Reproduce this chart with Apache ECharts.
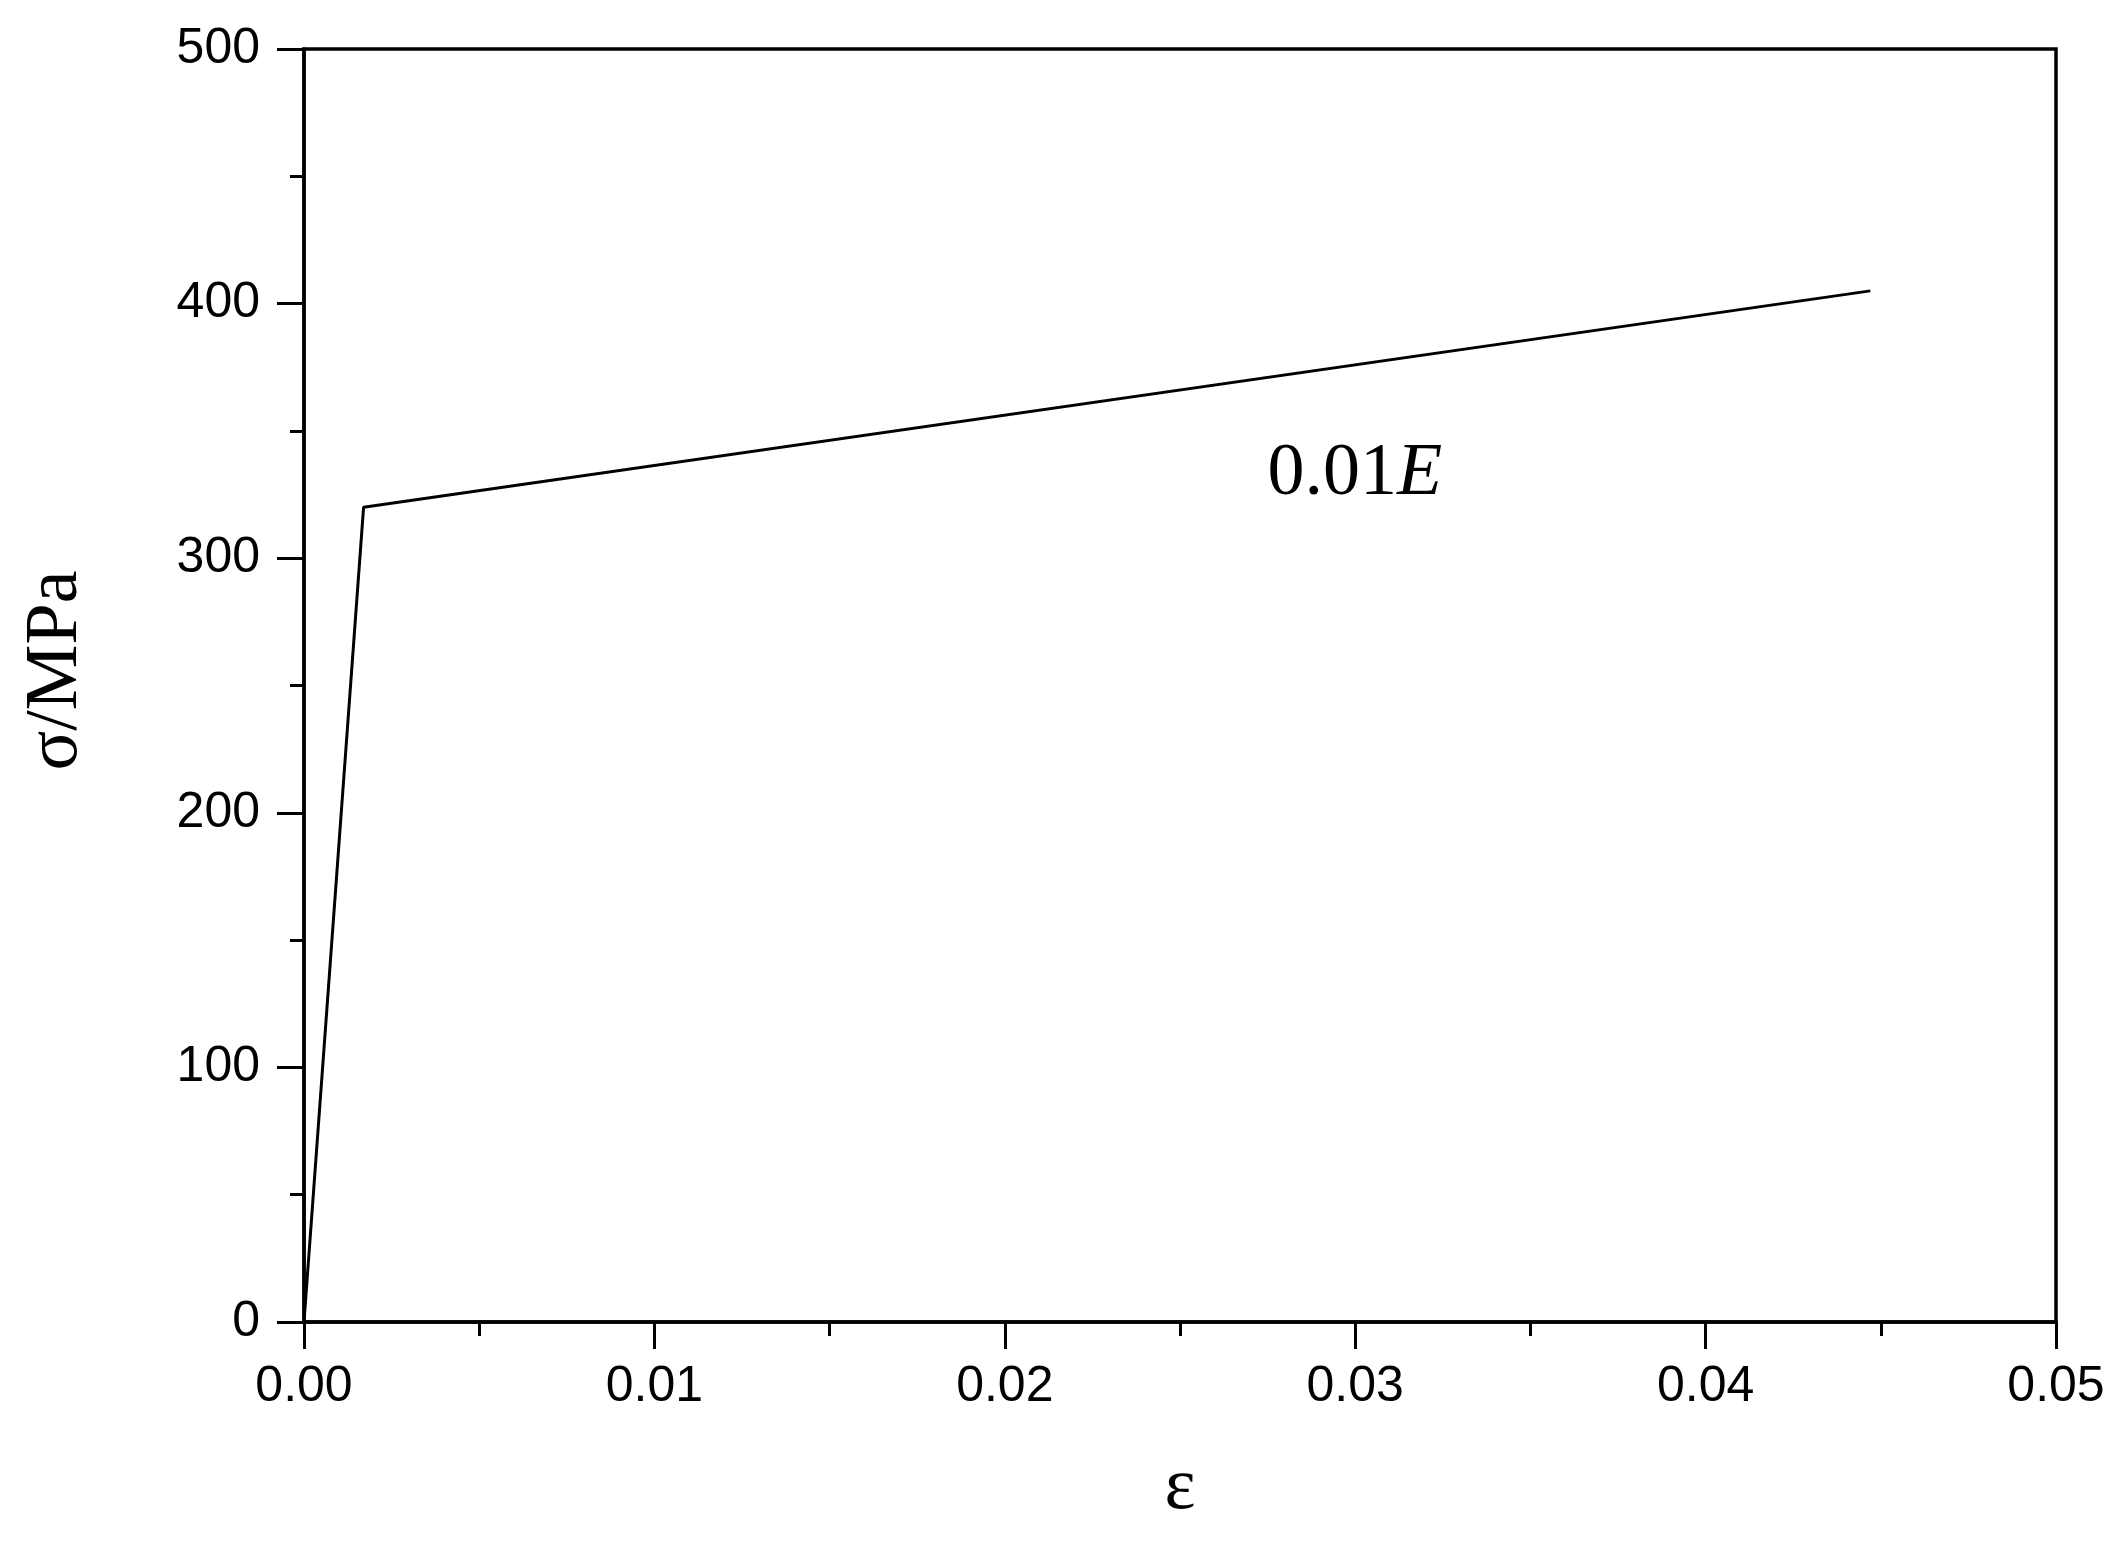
<!DOCTYPE html>
<html>
<head>
<meta charset="utf-8">
<script src="https://cdn.jsdelivr.net/npm/echarts@6/dist/echarts.min.js"></script>
<style>
  html, body { margin: 0; padding: 0; background: #fff; }
  #main { width: 2128px; height: 1542px; }
</style>
</head>
<body>
<div id="main"></div>
<script>
// strain / stress points of the bilinear curve
const strain = [0, 0.0017, 0.0447];
const stress = [0, 320, 405];
const xTicks = ['0.00', '0.01', '0.02', '0.03', '0.04', '0.05'];
const yTicks = ['0', '100', '200', '300', '400', '500'];
// annotation text and where it sits (data coords, left / vertical middle)
const noteText = '0.01';
const noteItalic = 'E';
const notePos = [0.0275, 333];

const chartDom = document.getElementById('main');
const myChart = echarts.init(chartDom);

const black = '#000';
const option = {
  animation: false,
  backgroundColor: '#fff',
  grid: {
    left: 304,
    right: 72,
    top: 49,
    bottom: 220,
    show: true,
    borderColor: black,
    borderWidth: 3.5
  },
  xAxis: {
    type: 'value',
    min: 0,
    max: 0.05,
    interval: 0.01,
    name: 'ε',
    nameLocation: 'middle',
    nameGap: 130,
    nameTextStyle: { fontFamily: 'Liberation Serif', fontSize: 74, color: black },
    axisLine: { lineStyle: { color: black, width: 3.5 } },
    axisTick: { inside: false, length: 27, lineStyle: { color: black, width: 3 } },
    minorTick: { show: true, splitNumber: 2, length: 14, lineStyle: { color: black, width: 3 } },
    splitLine: { show: false },
    axisLabel: {
      margin: 40,
      fontFamily: 'Liberation Sans',
      fontSize: 50,
      color: black,
      formatter: (v) => xTicks[Math.round(v / 0.01)]
    }
  },
  yAxis: {
    type: 'value',
    min: 0,
    max: 500,
    interval: 100,
    name: 'σ/MPa',
    nameLocation: 'middle',
    nameGap: 210,
    nameTextStyle: {
      fontFamily: 'Liberation Serif',
      fontSize: 74,
      color: black,
      padding: [0, 0, 0, 30]
    },
    axisLine: { lineStyle: { color: black, width: 3.5 } },
    axisTick: { inside: false, length: 27, lineStyle: { color: black, width: 3 } },
    minorTick: { show: true, splitNumber: 2, length: 14, lineStyle: { color: black, width: 3 } },
    splitLine: { show: false },
    axisLabel: {
      margin: 44,
      fontFamily: 'Liberation Sans',
      fontSize: 50,
      color: black,
      formatter: (v) => yTicks[Math.round(v / 100)]
    }
  },
  series: [
    {
      type: 'line',
      data: strain.map((x, i) => [x, stress[i]]),
      showSymbol: false,
      lineStyle: { color: black, width: 3 },
      silent: true
    }
  ]
};

myChart.setOption(option);

// place the annotation through the axes
const p = myChart.convertToPixel({ gridIndex: 0 }, notePos);
myChart.setOption({
  graphic: [
    {
      type: 'text',
      x: p[0],
      y: p[1],
      style: {
        text: '{n|' + noteText + '}{i|' + noteItalic + '}',
        verticalAlign: 'middle',
        rich: {
          n: { fontFamily: 'Liberation Serif', fontSize: 74, fill: black },
          i: { fontFamily: 'Liberation Serif', fontSize: 74, fontStyle: 'italic', fill: black }
        }
      }
    }
  ]
});
</script>
</body>
</html>
